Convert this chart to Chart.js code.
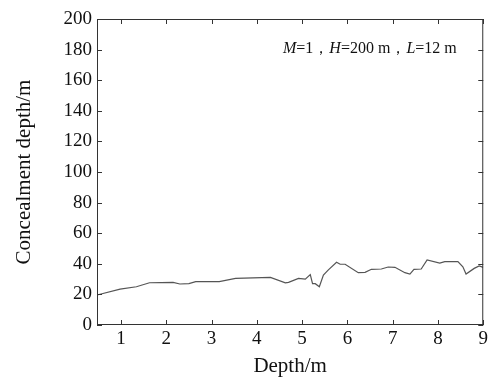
<!DOCTYPE html>
<html>
<head>
<meta charset="utf-8">
<script src="https://cdn.jsdelivr.net/npm/chart.js@4/dist/chart.umd.min.js"></script>
<style>
  html, body { margin: 0; padding: 0; background: #fff; }
  #wrap { width: 491px; height: 381px; }
</style>
</head>
<body>
<div id="wrap"><canvas id="c" width="491" height="381"></canvas></div>
<script>
// depth (m) vs concealment depth (m)
const depth = [0.47, 0.98, 1.34, 1.63, 2.15, 2.3, 2.5, 2.65, 3.17, 3.53, 4.3, 4.63,
  4.7, 4.92, 5.07, 5.18, 5.23, 5.29, 5.38, 5.47, 5.58, 5.76, 5.84, 5.95, 6.24, 6.39,
  6.53, 6.75, 6.9, 7.05, 7.27, 7.38, 7.47, 7.63, 7.76, 8.04, 8.15, 8.44, 8.55, 8.62,
  8.8, 8.91, 9.0];
const concealment = [19.6, 23.5, 25, 27.6, 27.9, 26.8, 27, 28.3, 28.3, 30.5, 31.1, 27.6,
  27.9, 30.5, 30, 33, 27, 27, 25, 32.7, 36, 41, 39.7, 39.7, 34.2, 34.4,
  36.4, 36.6, 37.9, 37.7, 34.2, 33.3, 36.4, 36.6, 42.5, 40.5, 41.4, 41.4, 38, 33.3,
  37, 38.6, 37.7];
const xTicks = [1, 2, 3, 4, 5, 6, 7, 8, 9];
const yTicks = [0, 20, 40, 60, 80, 100, 120, 140, 160, 180, 200];

const FONT = "'Liberation Serif', 'Times New Roman', serif";

// box + inward ticks, matlab style
const boxPlugin = {
  id: 'box',
  afterDraw(chart) {
    const { ctx, chartArea: a, scales } = chart;
    ctx.save();
    ctx.strokeStyle = '#333';
    ctx.lineWidth = 1;
    ctx.strokeRect(a.left + 0.5, a.top + 0.5, a.right - a.left - 1, a.bottom - a.top - 1);
    ctx.beginPath();
    xTicks.forEach(v => {
      const x = Math.round(scales.x.getPixelForValue(v)) + 0.5;
      ctx.moveTo(x, a.bottom); ctx.lineTo(x, a.bottom - 5);
      ctx.moveTo(x, a.top); ctx.lineTo(x, a.top + 5);
    });
    yTicks.forEach(v => {
      const y = Math.round(scales.y.getPixelForValue(v)) + 0.5;
      ctx.moveTo(a.left, y); ctx.lineTo(a.left + 5, y);
      ctx.moveTo(a.right, y); ctx.lineTo(a.right - 5, y);
    });
    ctx.stroke();

    // annotation
    const parts = [
      ['italic', 'M'], ['normal', '=1，'], ['italic', 'H'], ['normal', '=200 m，'],
      ['italic', 'L'], ['normal', '=12 m']
    ];
    let x = 283;
    const y = 53;
    ctx.fillStyle = '#111';
    ctx.textBaseline = 'alphabetic';
    parts.forEach(([style, txt]) => {
      ctx.font = style + ' 16px ' + FONT;
      ctx.fillText(txt, x, y);
      x += ctx.measureText(txt).width;
    });
    ctx.restore();
  }
};

new Chart(document.getElementById('c'), {
  type: 'line',
  data: {
    datasets: [{
      data: depth.map((d, i) => ({ x: d, y: concealment[i] })),
      borderColor: '#555',
      borderWidth: 1.2,
      pointRadius: 0,
      tension: 0,
      fill: false
    }]
  },
  options: {
    responsive: false,
    animation: false,
    layout: { padding: { top: 19, right: 3, left: 0, bottom: 0 } },
    plugins: { legend: { display: false }, tooltip: { enabled: false } },
    scales: {
      x: {
        type: 'linear',
        min: 0.47,
        max: 9,
        afterBuildTicks(scale) { scale.ticks = xTicks.map(v => ({ value: v })); },
        afterFit(scale) { scale.height = 56; },
        grid: { display: false, drawTicks: false },
        border: { display: false },
        ticks: { color: '#111', font: { family: FONT, size: 19 }, padding: 3, maxRotation: 0 },
        title: { display: true, text: 'Depth/m', color: '#111', font: { family: FONT, size: 21 }, padding: { top: 0, bottom: 2 } }
      },
      y: {
        min: 0,
        max: 200,
        afterBuildTicks(scale) { scale.ticks = yTicks.map(v => ({ value: v })); },
        afterFit(scale) { scale.width = 97; },
        grid: { display: false, drawTicks: false },
        border: { display: false },
        ticks: { color: '#111', font: { family: FONT, size: 19 }, padding: 5 },
        title: { display: true, text: 'Concealment depth/m', color: '#111', font: { family: FONT, size: 21 }, padding: { top: 12, bottom: 0 } }
      }
    }
  },
  plugins: [boxPlugin]
});
</script>
</body>
</html>
